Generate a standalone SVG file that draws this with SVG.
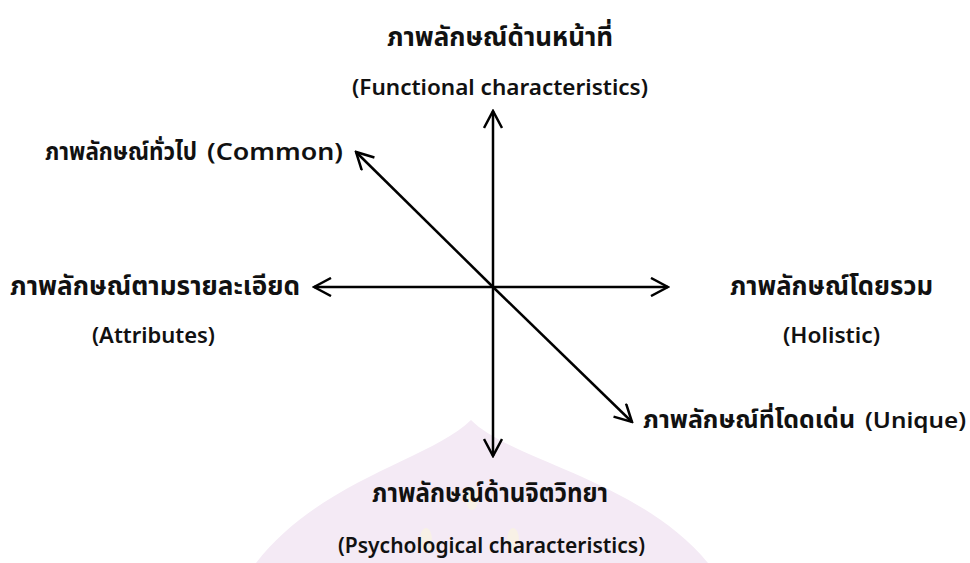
<svg xmlns="http://www.w3.org/2000/svg" width="970" height="563" viewBox="0 0 970 563">
<style>
.th{font-family:"Noto Sans Thai","Noto Sans Thai UI","Noto Sans",sans-serif;font-weight:bold;font-size:26px;fill:#111}
.thr{font-family:"Noto Sans Thai","Noto Sans Thai UI","Noto Sans",sans-serif;font-weight:bold;font-size:24px;fill:#111}
.en{font-family:"Noto Sans","Open Sans",sans-serif;font-weight:600;font-size:21px;fill:#111}
.ax{stroke:#000;stroke-width:2.5;fill:none;marker-end:url(#ah)}
</style>
<defs>
<marker id="ah" viewBox="0 0 20 20" refX="18" refY="10" markerWidth="20" markerHeight="20" markerUnits="userSpaceOnUse" orient="auto">
<path d="M1,1 L18,10 L1,19" fill="none" stroke="#000" stroke-width="2.5"/>
</marker>
</defs>
<rect width="970" height="563" fill="#fff"/>
<g id="watermark">
<path d="M471,420 C510,460 640,480 708,563 L256,563 C320,480 430,460 471,420 Z" fill="#f4eaf5"/>
<ellipse cx="472" cy="498" rx="6" ry="12" fill="#f8f1e6"/>
<ellipse cx="426" cy="540" rx="6" ry="12" fill="#f8f1e6"/>
<ellipse cx="513" cy="540" rx="6" ry="12" fill="#f8f1e6"/>
</g>
<g id="connectors">
<line class="ax" x1="493" y1="287" x2="493" y2="111"/>
<line class="ax" x1="493" y1="287" x2="493" y2="456"/>
<line class="ax" x1="493" y1="287" x2="314" y2="287"/>
<line class="ax" x1="493" y1="287" x2="668" y2="287"/>
<line class="ax" x1="493" y1="287" x2="356" y2="152"/>
<line class="ax" x1="493" y1="287" x2="632" y2="422"/>
</g>
<g id="functional">
<text class="th" x="387" y="46" textLength="226" lengthAdjust="spacingAndGlyphs">ภาพลักษณ์ด้านหน้าที่</text>
<text class="en" x="352" y="95" textLength="296" lengthAdjust="spacingAndGlyphs">(Functional characteristics)</text>
</g>
<g id="common">
<text class="thr" x="45" y="160" textLength="152" lengthAdjust="spacingAndGlyphs">ภาพลักษณ์ทั่วไป</text>
<text class="en" x="207" y="160" style="font-size:23px" textLength="136" lengthAdjust="spacingAndGlyphs">(Common)</text>
</g>
<g id="attributes">
<text class="th" x="10" y="295" textLength="290" lengthAdjust="spacingAndGlyphs">ภาพลักษณ์ตามรายละเอียด</text>
<text class="en" x="92" y="343" textLength="123" lengthAdjust="spacingAndGlyphs">(Attributes)</text>
</g>
<g id="holistic">
<text class="th" x="730" y="295" textLength="203" lengthAdjust="spacingAndGlyphs">ภาพลักษณ์โดยรวม</text>
<text class="en" x="783" y="343" textLength="97" lengthAdjust="spacingAndGlyphs">(Holistic)</text>
</g>
<g id="unique">
<text class="thr" x="643" y="428" textLength="212" lengthAdjust="spacingAndGlyphs">ภาพลักษณ์ที่โดดเด่น</text>
<text class="en" x="865" y="428" textLength="101" lengthAdjust="spacingAndGlyphs">(Unique)</text>
</g>
<g id="psychological">
<text class="th" x="372" y="502" textLength="236" lengthAdjust="spacingAndGlyphs">ภาพลักษณ์ด้านจิตวิทยา</text>
<text class="en" x="338" y="553" textLength="307" lengthAdjust="spacingAndGlyphs">(Psychological characteristics)</text>
</g>
</svg>
